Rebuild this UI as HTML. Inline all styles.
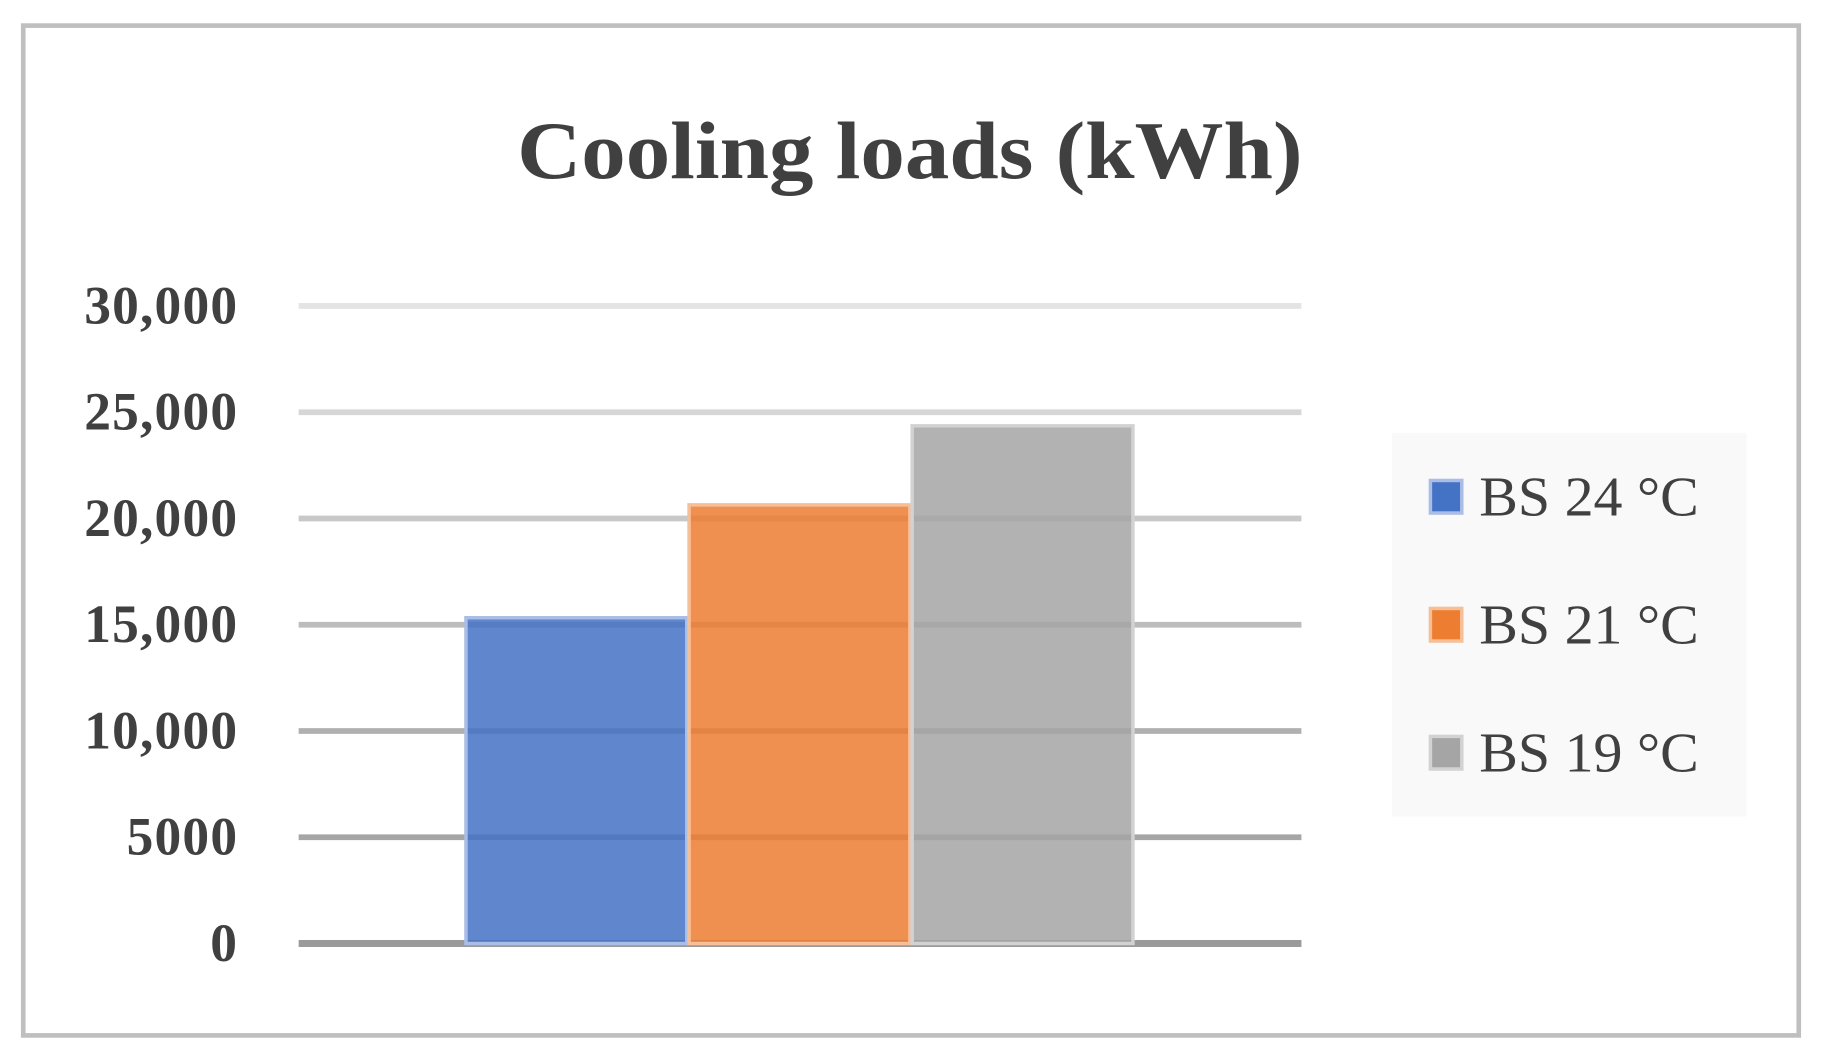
<!DOCTYPE html>
<html><head><meta charset="utf-8"><style>html,body{margin:0;padding:0;background:#fff}svg{display:block}</style></head>
<body>
<svg id="chart" width="1822" height="1061" viewBox="0 0 1568 912" preserveAspectRatio="none" xmlns="http://www.w3.org/2000/svg" font-family="'Liberation Serif', serif">
<rect x="20" y="22" width="1528" height="868" fill="#fff" stroke="#bfbfbf" stroke-width="4"/>
<text x="445" y="153" textLength="676" lengthAdjust="spacingAndGlyphs" font-size="70" font-weight="bold" fill="#404040">Cooling loads (kWh)</text>
<g id="grid"></g><g id="bars"></g><g id="ticks"></g>
<rect x="1198" y="372" width="305" height="330" fill="#f9f9f9"/>
<g id="legend"></g>
</svg>
<script>
const categories = ["BS 24 °C", "BS 21 °C", "BS 19 °C"];
const values = [15330, 20640, 24360];
const tickValues = [0, 5000, 10000, 15000, 20000, 25000, 30000];
const tickLabels = ["0", "5000", "10,000", "15,000", "20,000", "25,000", "30,000"];
const colors = ["#4472c4", "#ed7d31", "#a5a5a5"];
const edge = ["#a9bde6", "#f6bf98", "#d2d2d2"];
const gridColors = ["#9a9a9a","#a6a6a6","#b0b0b0","#bcbcbc","#c8c8c8","#d6d6d6","#e4e4e4"];
const NS = "http://www.w3.org/2000/svg";
const y0 = 811, y1 = 263, yMax = 30000, xL = 257, xR = 1120;
function y(v){ return y0 - (v / yMax) * (y0 - y1); }
function mk(tag, attrs, parent){ const e = document.createElementNS(NS, tag); for (const k in attrs) e.setAttribute(k, attrs[k]); parent.appendChild(e); return e; }
const grid = document.getElementById('grid'), ticks = document.getElementById('ticks'), bars = document.getElementById('bars'), legend = document.getElementById('legend');
tickValues.forEach((v, i) => {
  const l = mk('line', {x1: xL, x2: xR, y1: y(v), y2: y(v), stroke: gridColors[i], 'stroke-width': i === 0 ? 6 : 5}, grid);
  
  
  const t = mk('text', {x: 205, y: y(v) + 15, 'text-anchor': 'end', 'font-size': 46, 'font-weight': 'bold', fill: '#404040', 'letter-spacing': 1}, ticks);
  t.textContent = tickLabels[i];
  
  
});
const bx0 = 401, bw = 190;
values.forEach((v, i) => {
  const r = mk('rect', {x: bx0 + i * 192, y: y(v), width: bw, height: y0 - y(v), fill: colors[i], 'fill-opacity': 0.85, stroke: edge[i], 'stroke-width': 3}, bars);
  
  
  const ly = 427 + i * 110;
  const s = mk('rect', {x: 1231, y: ly - 14, width: 27, height: 28, fill: colors[i], stroke: edge[i], 'stroke-width': 3}, legend);
  
  
  const t = mk('text', {x: 1273, y: ly + 16, 'font-size': 48, fill: '#404040', textLength: 189, lengthAdjust: 'spacingAndGlyphs'}, legend);
  t.textContent = categories[i];
  
  
});
</script>
</body></html>
